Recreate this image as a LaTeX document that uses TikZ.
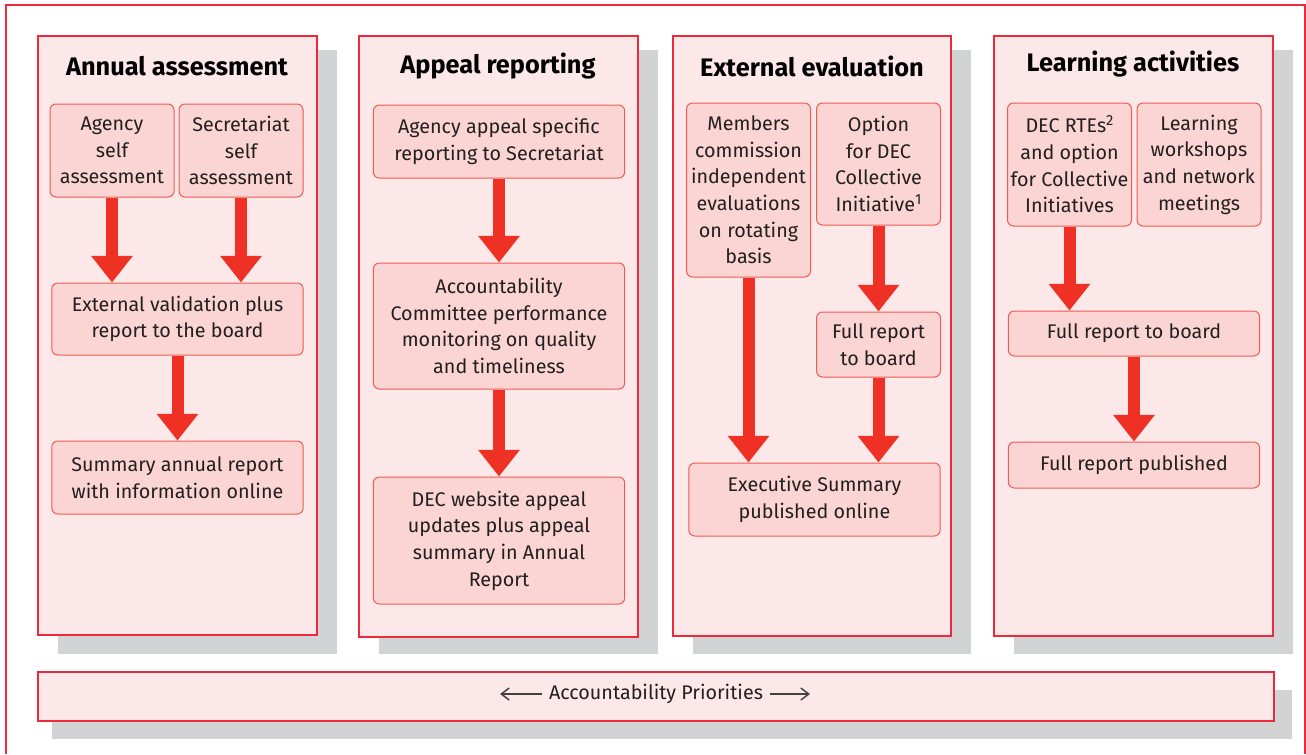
\documentclass[tikz,border=0pt]{standalone}
\usepackage{fontspec}
\setmainfont{Fira Sans}
\usetikzlibrary{arrows.meta}

\definecolor{panelred}{HTML}{EC2A3B}
\definecolor{panelfill}{HTML}{FDE8E9}
\definecolor{boxfill}{HTML}{FBD5D3}
\definecolor{boxline}{HTML}{EF5B52}
\definecolor{arrowred}{HTML}{EE3124}
\definecolor{shadowgray}{HTML}{D1D3D4}
\definecolor{textgray}{HTML}{231F20}

\newcommand{\notemark}[1]{\raisebox{0.65ex}{\fontsize{11}{11}\selectfont #1}}

\tikzset{every picture/.style={line width=0.75pt}}

\begin{document}
\begin{tikzpicture}[x=0.75pt,y=0.75pt,yscale=-1,xscale=1,
    stepbox/.style={draw=boxline, fill=boxfill, rounded corners=4.5pt, align=center, inner sep=0pt,
      text=textgray, font=\fontsize{14.8}{20}\selectfont},
    narrowbox/.style={stepbox, minimum width=93pt},
    widebox/.style={stepbox, minimum width=188.5pt},
    paneltitle/.style={text=black, font=\fontsize{19}{22}\selectfont\bfseries},
    panel/.style={draw=panelred, fill=panelfill, line width=1.1pt},
    shade/.style={fill=shadowgray},
    bigarrow/.style={draw=arrowred, line width=9pt, -{Triangle[width=30pt,length=20pt]}},
    thinarrow/.style={draw=textgray!85, line width=1.1pt, -{Straight Barb[length=6pt,width=9pt]}}]
		\useasboundingbox (0,0) rectangle (1306,754);

		%outer frame
		\draw [panelred, line width=1.1pt] (6,754) -- (6,5) -- (1305,5) -- (1305,754);

		%shadows
		\fill [shade] (58,50) rectangle (337,654);
		\fill [shade] (379,50) rectangle (658,654);
		\fill [shade] (693,50) rectangle (971,654);
		\fill [shade] (1014,50) rectangle (1293,654);
		\fill [shade] (52,690) rectangle (1292,739);

		%panels
		\draw [panel] (38,36) rectangle (317,635);
		\draw [panel] (359,36) rectangle (638,637);
		\draw [panel] (673,36) rectangle (951,636);
		\draw [panel] (994,36) rectangle (1273,636);
		\draw [panel] (38,672) rectangle (1274,721);

		%annual assessment
		\node [paneltitle] (t1) at (177,66) {Annual assessment};
		\node [narrowbox, minimum height=69.75pt] (aself) at (112,150.5) {Agency\\self\\assessment};
		\node [narrowbox, minimum height=69.75pt] (sself) at (241,150.5) {Secretariat\\self\\assessment};
		\node [widebox, minimum height=54pt] (extval) at (177.5,319) {External validation plus\\report to the board};
		\node [widebox, minimum height=54.75pt] (summary) at (177.5,477.5) {Summary annual report\\with information online};
		\draw [bigarrow] (aself.south) -- (aself.south |- extval.north);
		\draw [bigarrow] (sself.south) -- (sself.south |- extval.north);
		\draw [bigarrow] (extval.south) -- (summary.north);

		%appeal reporting
		\node [paneltitle] (t2) at (498,66) {Appeal reporting};
		\node [widebox, minimum height=54.75pt] (appspec) at (499,141.5) {Agency appeal specific\\reporting to Secretariat};
		\node [widebox, minimum height=94.5pt] (acccom) at (499,326) {Accountability\\Committee performance\\monitoring on quality\\and timeliness};
		\node [widebox, minimum height=95.25pt] (website) at (499,540.5) {DEC website appeal\\updates plus appeal\\summary in Annual\\Report};
		\draw [bigarrow] (appspec.south) -- (acccom.north);
		\draw [bigarrow] (acccom.south) -- (website.north);

		%external evaluation
		\node [paneltitle] (t3) at (812,66) {External evaluation};
		\node [narrowbox, minimum height=130.5pt] (members) at (748.5,190) {Members\\commission\\independent\\evaluations\\on rotating\\basis};
		\node [narrowbox, minimum height=91.5pt] (option) at (878.5,164) {Option\\for DEC\\Collective\\Initiative\notemark{1}};
		\node [narrowbox, minimum height=48.75pt] (fullrep) at (878.5,344.5) {Full report\\to board};
		\node [widebox, minimum height=54.75pt] (execsum) at (814.5,499.5) {Executive Summary\\published online};
		\draw [bigarrow] (option.south) -- (fullrep.north);
		\draw [bigarrow] (fullrep.south) -- (fullrep.south |- execsum.north);
		\draw [bigarrow] (members.south) -- (members.south |- execsum.north);

		%learning activities
		\node [paneltitle] (t4) at (1133,64) {Learning activities};
		\node [narrowbox, minimum height=92.25pt] (rtes) at (1069.5,164.5) {DEC RTEs\notemark{2}\\and option\\for Collective\\Initiatives};
		\node [narrowbox, minimum height=92.25pt] (workshops) at (1199,164.5) {Learning\\workshops\\and network\\meetings};
		\node [widebox, minimum height=33.75pt] (fullboard) at (1134,333.5) {Full report to board};
		\node [widebox, minimum height=34.5pt] (published) at (1134,465) {Full report published};
		\draw [bigarrow] (rtes.south) -- (rtes.south |- fullboard.north);
		\draw [bigarrow] (fullboard.south) -- (published.north);

		%priorities bar
		\node [text=textgray, font=\fontsize{14.8}{20}\selectfont, inner sep=5pt] (prio) at (656,694) {Accountability Priorities};
		\coordinate (pleft) at (500,694);
		\coordinate (pright) at (810,694);
		\draw [thinarrow] (prio.west) -- (pleft);
		\draw [thinarrow] (prio.east) -- (pright);

		\end{tikzpicture}
\end{document}
